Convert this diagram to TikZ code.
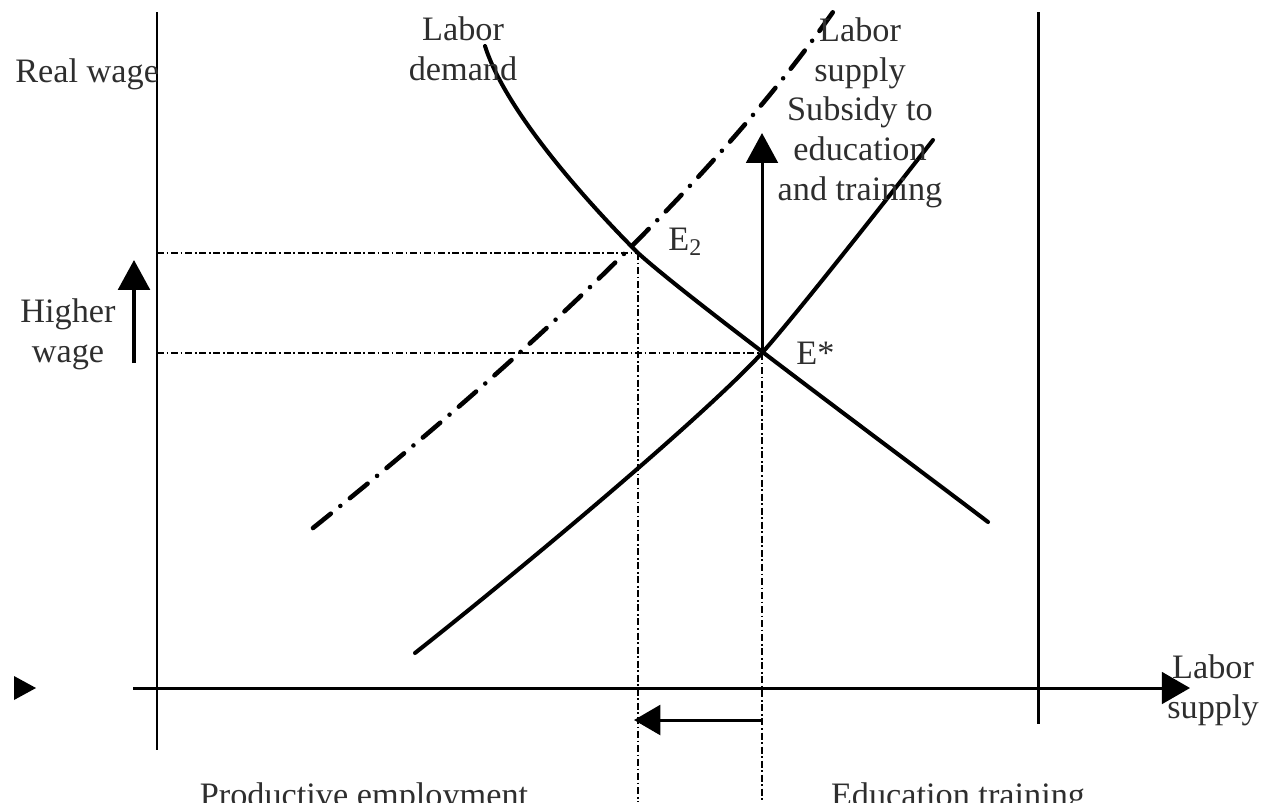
\documentclass[tikz,border=0pt]{standalone}
\usepackage{fontspec}
\setmainfont{Liberation Serif}
\usetikzlibrary{arrows.meta}
\begin{document}
\begin{tikzpicture}[x=0.02cm,y=-0.02cm,
  axis/.style={line width=1.7pt},
  curve/.style={line width=2.3pt,line cap=round},
  shifted/.style={line width=2.6pt,line cap=round,dash pattern=on 13pt off 7pt on 0pt off 7pt},
  guide/.style={line width=1.1pt,dash pattern=on 4pt off 1.5pt on 1pt off 1.5pt},
  lbl/.style={font=\fontsize{19.5}{22.5}\selectfont,inner sep=0pt,align=center,text=black!82}]
\useasboundingbox (0,0) rectangle (1266,802);
% coordinates
\coordinate (ytop) at (157,12);
\coordinate (ybot) at (157,750);
\coordinate (xl) at (133,688);
\coordinate (xr) at (1190,688);
\coordinate (rtop) at (1038,12);
\coordinate (rbot) at (1038,724);
\coordinate (e2) at (638,253);
\coordinate (es) at (762,353);
\coordinate (w2) at (157,253);
\coordinate (ws) at (157,353);
\coordinate (e2b) at (638,802);
\coordinate (esb) at (762,802);
\coordinate (subtop) at (762,133);
\coordinate (hwb) at (134,363);
\coordinate (hwt) at (134,260);
\coordinate (ba) at (762,720);
\coordinate (bb) at (634,720);
\coordinate (dtop) at (485,46);
\coordinate (dbot) at (988,522);
\coordinate (sbot) at (415,653);
\coordinate (stop) at (933,140);
\coordinate (nbot) at (313,528);
\coordinate (ntop) at (833,12);
% axes and frame lines
\draw[axis] (ytop) -- (ybot);
\draw[axis] (rtop) -- (rbot);
\draw[axis,-{Triangle[length=16pt,width=18pt]}] (xl) -- (xr);
\fill (14,676) -- (36,688) -- (14,700) -- cycle;
% guides
\draw[guide] (w2) -- (e2);
\draw[guide] (ws) -- (es);
\draw[guide] (e2) -- (e2b);
\draw[guide] (es) -- (esb);
% curves
\draw[curve] (dtop) .. controls (505,110) and (585,200) .. (e2)
                    .. controls (690,300) and (880,440) .. (dbot);
\draw[curve] (sbot) .. controls (520,570) and (700,420) .. (es)
                    .. controls (800,310) and (890,195) .. (stop);
\draw[shifted] (nbot) .. controls (460,410) and (690,215) .. (ntop);
% arrows
\draw[line width=1.7pt,-{Triangle[length=17pt,width=18pt]}] (es) -- (subtop);
\draw[line width=2pt,-{Triangle[length=17pt,width=18pt]}] (hwb) -- (hwt);
\draw[line width=1.7pt,-{Triangle[length=15pt,width=17pt]}] (ba) -- (bb);
% labels
\node[lbl,anchor=base west] (rw) at (15,82) {Real wage};
\node[lbl,anchor=base] (ld) at (463,80) {Labor\\demand};
\node[lbl,anchor=base] (ls) at (860,200) {Labor\\supply\\Subsidy to\\education\\and training};
\node[lbl,anchor=base] (hw) at (68,362) {Higher\\wage};
\node[lbl,anchor=base west] (le2) at (668,250) {E\textsubscript{2}};
\node[lbl,anchor=base west] (les) at (796,364) {E*};
\node[lbl,anchor=base] (lx) at (1213,718) {Labor\\supply};
\node[lbl,anchor=base] (pe) at (364,806) {Productive employment};
\node[lbl,anchor=base] (et) at (958,806) {Education training};
\end{tikzpicture}
\end{document}
